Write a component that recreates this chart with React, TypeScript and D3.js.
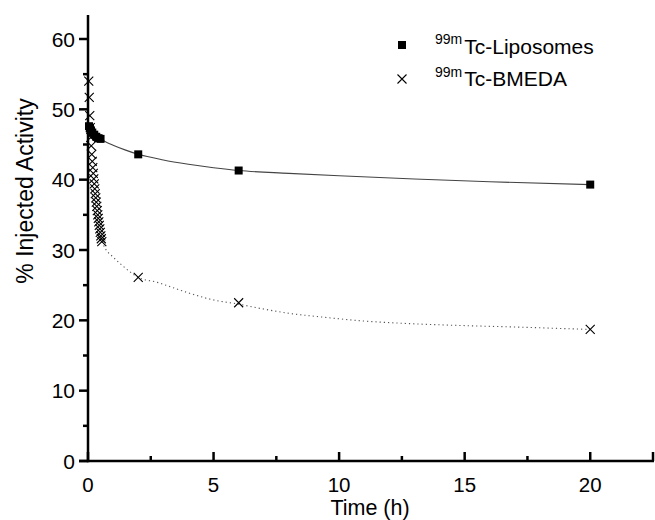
import React from "react";
import * as d3 from "d3";

// ---- Data ----
const lipoTime = [0.04, 0.08, 0.12, 0.17, 0.25, 0.33, 0.42, 0.5, 2, 6, 20];
const lipoValue = [47.6, 47.3, 47.0, 46.7, 46.4, 46.1, 45.9, 45.8, 43.6, 41.3, 39.3];

const bmedaTime = [
  0.03, 0.05, 0.07, 0.09, 0.11, 0.13, 0.15, 0.17, 0.19, 0.21, 0.23, 0.25, 0.27, 0.29,
  0.31, 0.33, 0.35, 0.37, 0.39, 0.41, 0.43, 0.45, 0.47, 0.49, 0.51, 0.53, 0.55, 2, 6, 20,
];
const bmedaValue = [
  54.0, 51.7, 49.1, 47.4, 46.0, 44.8, 43.6, 42.6, 41.7, 40.9, 40.1, 39.4, 38.7, 38.0,
  37.4, 36.8, 36.2, 35.6, 35.0, 34.5, 34.0, 33.5, 33.0, 32.5, 32.0, 31.6, 31.2, 26.1, 22.5, 18.7,
];

// fitted curves
const lipoFitTime = [0.3, 0.5, 0.75, 1, 1.5, 2, 3, 4, 5, 6, 8, 10, 13, 16, 20];
const lipoFitValue = [46.2, 45.8, 45.3, 44.9, 44.2, 43.6, 42.8, 42.2, 41.7, 41.3, 40.9, 40.55, 40.1, 39.7, 39.3];

const bmedaFitTime = [0.55, 0.68, 1, 1.27, 1.6, 2, 2.76, 3.5, 4, 5, 6, 7, 8, 9.24, 11, 13, 15, 17, 20];
const bmedaFitValue = [31.2, 30.25, 29.0, 28.1, 27.1, 26.1, 25.4, 24.5, 23.9, 22.9, 22.3, 21.6, 21.0, 20.5, 19.9, 19.5, 19.25, 19.05, 18.7];

const xMajorTicks = [0, 5, 10, 15, 20];
const xMinorTicks = [2.5, 7.5, 12.5, 17.5];
const yMajorTicks = [0, 10, 20, 30, 40, 50, 60];
const yMinorTicks = [5, 15, 25, 35, 45, 55];

const legendLabels = ["Tc-Liposomes", "Tc-BMEDA"];
const legendSup = "99m";

export default function App() {
  const W = 655;
  const H = 520;
  const x = d3.scaleLinear().domain([0, 22.5]).range([88, 653]);
  const y = d3.scaleLinear().domain([0, 60]).range([461, 39]);
  const yTop = 63.4;
  const font = "'Liberation Sans', Arial, Helvetica, sans-serif";

  const lipoFit = d3
    .line<number>()
    .x((_, i) => x(lipoFitTime[i]))
    .y((d) => y(d))
    .curve(d3.curveMonotoneX)(lipoFitValue) as string;
  const bmedaFit = d3
    .line<number>()
    .x((_, i) => x(bmedaFitTime[i]))
    .y((d) => y(d))
    .curve(d3.curveMonotoneX)(bmedaFitValue) as string;

  const sq = 8;
  const cr = 4.5;
  const cross = (cx: number, cy: number, key: string | number) => (
    <path
      key={key}
      d={`M${cx - cr},${cy - cr}L${cx + cr},${cy + cr}M${cx - cr},${cy + cr}L${cx + cr},${cy - cr}`}
      stroke="#000"
      strokeWidth={1.1}
      fill="none"
    />
  );

  const axisX0 = x(0);
  const axisY0 = y(0);

  return (
    <svg width={W} height={H} style={{ position: "absolute", left: 0, top: 0, background: "#fff" }}>
      <rect x={0} y={0} width={W} height={H} fill="#fff" />
      {/* fits */}
      <path d={lipoFit} fill="none" stroke="#444" strokeWidth={1.1} />
      <path d={bmedaFit} fill="none" stroke="#555" strokeWidth={1.1} strokeDasharray="1.2,3" />

      {/* BMEDA points */}
      {bmedaValue.map((v, i) => cross(x(bmedaTime[i]), y(v), "b" + i))}
      {/* Liposome points */}
      {lipoValue.map((v, i) => (
        <rect key={"l" + i} x={x(lipoTime[i]) - sq / 2} y={y(v) - sq / 2} width={sq} height={sq} fill="#000" />
      ))}

      {/* axes */}
      <line x1={axisX0} x2={axisX0} y1={y(yTop)} y2={axisY0 + 1.2} stroke="#000" strokeWidth={2.5} />
      <line x1={axisX0 - 9} x2={x(22.5) + 1} y1={axisY0} y2={axisY0} stroke="#000" strokeWidth={2.5} />
      {yMajorTicks.map((t) => (
        <g key={"ym" + t}>
          <line x1={axisX0 - 9} x2={axisX0} y1={y(t)} y2={y(t)} stroke="#000" strokeWidth={2.5} />
          <text x={axisX0 - 13} y={y(t) + 7.5} textAnchor="end" fontSize={21} fontFamily={font}>
            {t}
          </text>
        </g>
      ))}
      {yMinorTicks.map((t) => (
        <line key={"yn" + t} x1={axisX0 - 5} x2={axisX0} y1={y(t)} y2={y(t)} stroke="#000" strokeWidth={2.5} />
      ))}
      {xMajorTicks.map((t) => (
        <g key={"xm" + t}>
          <line x1={x(t)} x2={x(t)} y1={axisY0} y2={axisY0 - 9} stroke="#000" strokeWidth={2.5} />
          <text x={x(t)} y={492} textAnchor="middle" fontSize={20.5} fontFamily={font}>
            {t}
          </text>
        </g>
      ))}
      <line x1={x(22.5)} x2={x(22.5)} y1={axisY0} y2={axisY0 - 9} stroke="#000" strokeWidth={2.5} />
      {xMinorTicks.map((t) => (
        <line key={"xn" + t} x1={x(t)} x2={x(t)} y1={axisY0} y2={axisY0 - 5} stroke="#000" strokeWidth={2.5} />
      ))}

      {/* axis titles */}
      <text x={370} y={515} textAnchor="middle" fontSize={21.5} fontFamily={font}>
        Time (h)
      </text>
      <text
        transform="translate(33,191) rotate(-90)"
        textAnchor="middle"
        fontSize={23}
        fontFamily={font}
      >
        % Injected Activity
      </text>

      {/* legend */}
      <rect x={402 - sq / 2} y={45 - sq / 2} width={sq} height={sq} fill="#000" />
      {cross(402, 79, "leg")}
      {legendLabels.map((lab, i) => (
        <text key={"lg" + i} x={435} y={53.5 + i * 32.5} fontFamily={font}>
          <tspan fontSize={14} dy={-9.5}>
            {legendSup}
          </tspan>
          <tspan fontSize={21} dy={9.5} dx={2}>
            {lab}
          </tspan>
        </text>
      ))}
    </svg>
  );
}
